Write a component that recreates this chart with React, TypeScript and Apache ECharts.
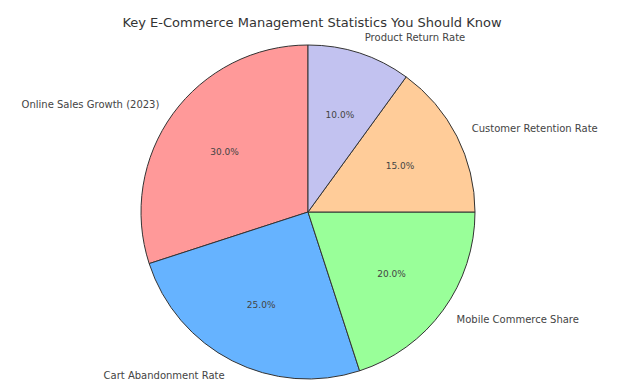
import React, { useEffect, useRef } from "react";
import * as echarts from "echarts";

const title = "Key E-Commerce Management Statistics You Should Know";
const categories = [
  "Online Sales Growth (2023)",
  "Cart Abandonment Rate",
  "Mobile Commerce Share",
  "Customer Retention Rate",
  "Product Return Rate",
];
const values = [30, 25, 20, 15, 10];
const colors = ["#ff9999", "#66b3ff", "#99ff99", "#ffcc99", "#c2c2f0"];

const FONT = "DejaVu Sans";
const R = 167;

export default function App() {
  const ref = useRef<HTMLDivElement>(null);
  useEffect(() => {
    document.body.style.margin = "0";
    const chart = echarts.init(ref.current!, null, { renderer: "svg" });
    const total = values.reduce((a, b) => a + b, 0);
    const data = categories.map((name, i) => ({
      name,
      value: values[i],
      itemStyle: { color: colors[i] },
    }));
    chart.setOption({
      animation: false,
      backgroundColor: "#ffffff",
      title: {
        text: title,
        left: "center",
        top: 11,
        textStyle: { fontFamily: FONT, fontSize: 13, fontWeight: "normal", color: "#333" },
      },
      series: [
        {
          type: "pie",
          center: [308, 212],
          radius: [0, R],
          startAngle: 90,
          clockwise: false,
          avoidLabelOverlap: false,
          silent: true,
          data,
          itemStyle: { borderColor: "#333", borderWidth: 1 },
          label: {
            show: true,
            position: "outside",
            distanceToLabelLine: 0,
            formatter: "{b}",
            fontFamily: FONT,
            fontSize: 10,
            color: "#444",
          },
          labelLine: { show: false, length: 0.1 * R, length2: 0 },
        },
        {
          type: "pie",
          center: [308, 213],
          radius: [0, 1.2 * R],
          startAngle: 90,
          clockwise: false,
          avoidLabelOverlap: false,
          silent: true,
          data: categories.map((name, i) => ({ name, value: values[i] })),
          itemStyle: { color: "rgba(0,0,0,0)", borderWidth: 0 },
          label: {
            show: true,
            position: "inside",
            formatter: (p: any) => ((p.value / total) * 100).toFixed(1) + "%",
            fontFamily: FONT,
            fontSize: 9,
            color: "#444",
          },
          labelLine: { show: false },
        },
      ],
    });
    return () => chart.dispose();
  }, []);
  return <div ref={ref} style={{ width: 624, height: 388 }} />;
}
